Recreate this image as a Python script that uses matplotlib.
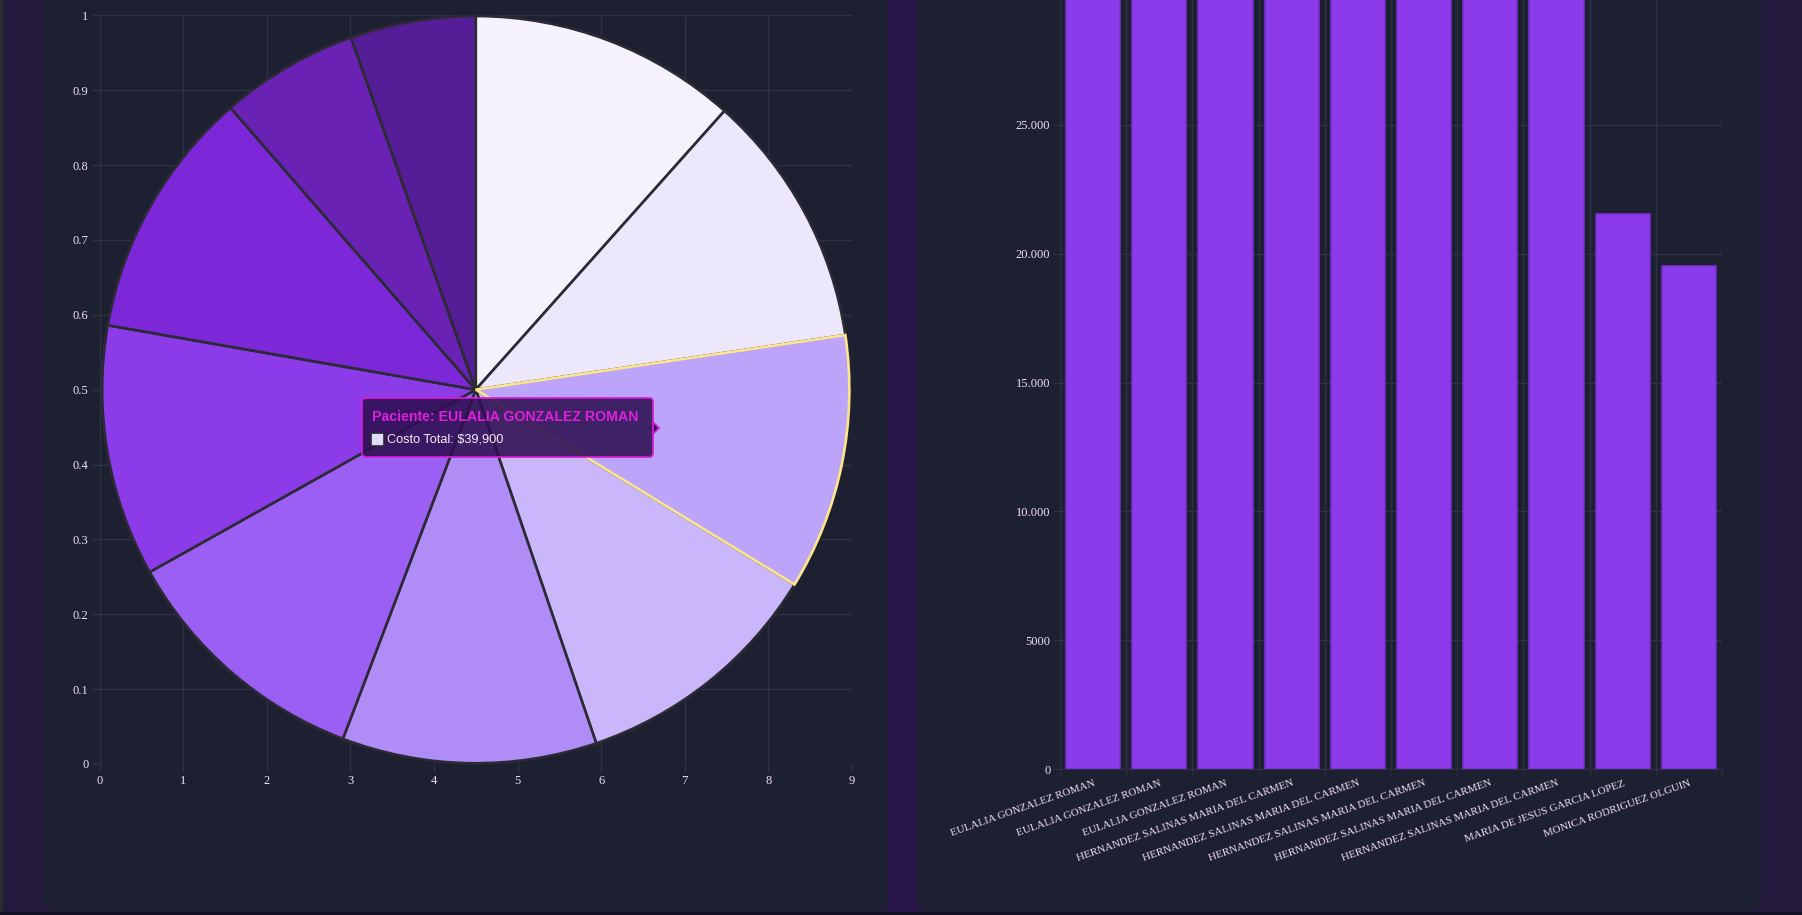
import matplotlib
matplotlib.use("Agg")
import matplotlib.pyplot as plt
from matplotlib.patches import FancyBboxPatch, Rectangle, Polygon
from matplotlib.ticker import FuncFormatter, MultipleLocator

# datos
pacientes = [
    "EULALIA GONZALEZ ROMAN",
    "EULALIA GONZALEZ ROMAN",
    "EULALIA GONZALEZ ROMAN",
    "HERNANDEZ SALINAS MARIA DEL CARMEN",
    "HERNANDEZ SALINAS MARIA DEL CARMEN",
    "HERNANDEZ SALINAS MARIA DEL CARMEN",
    "HERNANDEZ SALINAS MARIA DEL CARMEN",
    "HERNANDEZ SALINAS MARIA DEL CARMEN",
    "MARIA DE JESUS GARCIA LOPEZ",
    "MONICA RODRIGUEZ OLGUIN",
]
costos = [41800, 39900, 39900, 39800, 39700, 40000, 39200, 39100, 21550, 19530]
colores_pie = ["#f5f2fe", "#ece7fb", "#bca4fb", "#c9b6fb", "#b08cf7",
               "#9b5ff4", "#8c3be9", "#7c27d8", "#6a22b5", "#561e96"]
idx_activo = 2

W, H = 1802, 915
BG = "#231a3d"
CARD = "#1d2030"
GRID = "#2f3243"
TXT = "#f3dff2"
SERIF = ["Liberation Serif", "DejaVu Serif"]

fig = plt.figure(figsize=(W / 100, H / 100), dpi=100, facecolor=BG)

def frac(x0, y0, x1, y1):
    return [x0 / W, 1 - y1 / H, (x1 - x0) / W, (y1 - y0) / H]

# fondo de la pagina y tarjetas
bg = fig.add_axes([0, 0, 1, 1])
bg.set_xlim(0, W)
bg.set_ylim(H, 0)
bg.axis("off")
bg.add_patch(Rectangle((0, 0), 2, H, color="#2b2b2e"))
bg.add_patch(Rectangle((888, 0), 29, H, color="#29174c"))
for x0, x1 in [(44, 888), (917, 1761)]:
    bg.add_patch(FancyBboxPatch((x0, -40), x1 - x0, 951,
                                boxstyle="round,pad=0,rounding_size=14",
                                fc=CARD, ec="none"))
bg.add_patch(Rectangle((0, 912), W, 3, color="#140e22"))

# grafico de pastel (con escalas visibles, como en Chart.js)
pos_pie = frac(99.5, 15.3, 852, 764)
ax1 = fig.add_axes(pos_pie)
ax1.set_facecolor("none")
ax1.set_xlim(0, 9)
ax1.set_ylim(0, 1)
ax1.xaxis.set_major_locator(MultipleLocator(1))
ax1.yaxis.set_major_locator(MultipleLocator(0.1))
ax1.yaxis.set_major_formatter(FuncFormatter(lambda v, p: f"{v:g}"))
ax1.grid(True, color=GRID, linewidth=1)
for s in ax1.spines.values():
    s.set_visible(False)
ax1.tick_params(colors=GRID, labelcolor=TXT, length=5.8, width=1, pad=2, labelsize=9)
for lab in ax1.get_xticklabels() + ax1.get_yticklabels():
    lab.set_family(SERIF)

axp = fig.add_axes(pos_pie)
axp.set_facecolor("none")
axp.axis("off")
wedges, _ = axp.pie(costos, colors=colores_pie, startangle=90, counterclock=False,
                    radius=1.0,
                    wedgeprops=dict(edgecolor="#2b2a35", linewidth=1.9))
axp.set_aspect("equal", adjustable="datalim")
axp.set_xlim(-1.002, 1.002)
axp.set_ylim(-1.002, 1.002)
for w in wedges:
    w.set_clip_on(False)
wedges[idx_activo].set_edgecolor("#fde68a")
wedges[idx_activo].set_zorder(5)

# grafico de barras
ax2 = fig.add_axes(frac(1060, 0, 1722, 769))
ax2.set_facecolor("none")
x = range(len(pacientes))
ax2.bar(x, costos, width=0.82, color="#8b3be9", edgecolor="#7b2fd6", linewidth=1.1, zorder=3)
ax2.set_xlim(-0.5, len(pacientes) - 0.5)
ax2.set_ylim(0, 29852)
ax2.set_yticks([0, 5000, 10000, 15000, 20000, 25000])
ax2.yaxis.set_major_formatter(
    FuncFormatter(lambda v, p: f"{int(v):,}".replace(",", ".") if v >= 10000 else f"{int(v)}"))
ax2.set_xticks(list(x))
ax2.set_xticklabels(pacientes, rotation=19.4, ha="right", va="top", rotation_mode="anchor")
ax2.set_xticks([i - 0.5 for i in range(len(pacientes) + 1)], minor=True)
ax2.grid(True, axis="y", color=GRID, linewidth=1)
ax2.grid(True, axis="x", which="minor", color=GRID, linewidth=1)
for s in ["top", "right"]:
    ax2.spines[s].set_visible(False)
for s in ["left", "bottom"]:
    ax2.spines[s].set_color(GRID)
ax2.tick_params(axis="y", colors=GRID, labelcolor=TXT, length=5, pad=2, labelsize=9)
ax2.tick_params(axis="x", which="major", length=0, labelcolor=TXT, pad=7, labelsize=7.9)
ax2.tick_params(axis="x", which="minor", length=5, color=GRID)
for lab in ax2.get_xticklabels() + ax2.get_yticklabels():
    lab.set_family(SERIF)

# tooltip
ov = fig.add_axes([0, 0, 1, 1], zorder=10)
ov.set_xlim(0, W)
ov.set_ylim(H, 0)
ov.axis("off")
ov.add_patch(FancyBboxPatch((362, 398), 291, 59, boxstyle="round,pad=0,rounding_size=4",
                            fc="#2e0f50", ec="#d81ad8", lw=1.4, alpha=0.88))
ov.add_patch(Polygon([(653, 422), (659, 428), (653, 434)], closed=True,
                     fc="#2e0f50", ec="#d81ad8", lw=1.2))
ov.text(372, 417, f"Paciente: {pacientes[idx_activo]}", color="#e01ee0",
        fontsize=10.2, fontweight="bold", family="Liberation Sans", va="center")
ov.add_patch(Rectangle((371, 433), 13, 13, fc="#e0dcf8", ec="#2b2a35", lw=1.2))
ov.text(387, 439.5, f"Costo Total: ${costos[idx_activo]:,}", color="#f4eefc",
        fontsize=9.2, family="Liberation Sans", va="center")

fig.savefig("out.png", dpi=100, facecolor=BG)
